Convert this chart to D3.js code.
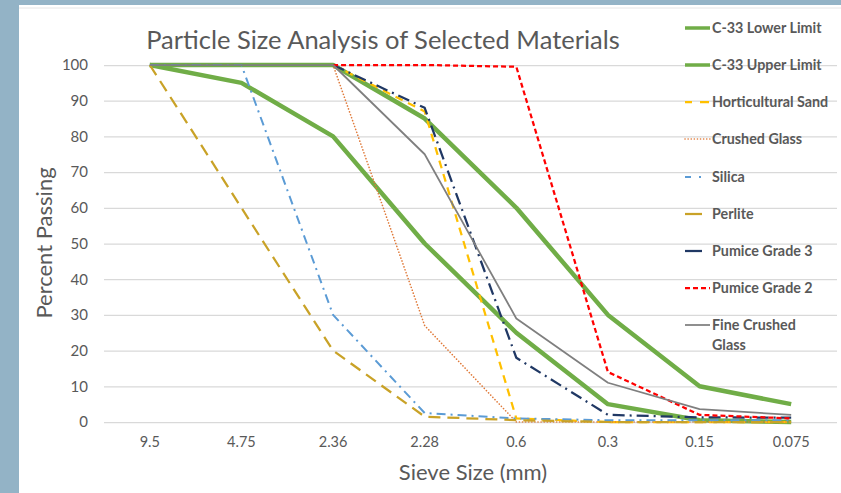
<!DOCTYPE html>
<html><head><meta charset="utf-8">
<script src="https://cdn.jsdelivr.net/npm/d3@7"></script>
<style>
html,body{margin:0;padding:0;background:#93b3c6;}
svg{display:block;}
</style></head>
<body>
<svg id="chart" width="841" height="493"></svg>
<script>
const sieveSizes = ["9.5","4.75","2.36","2.28","0.6","0.3","0.15","0.075"];
const yTicks = [0,10,20,30,40,50,60,70,80,90,100];
const seriesNames = ["C-33 Lower Limit","C-33 Upper Limit","Horticultural Sand","Crushed Glass","Silica","Perlite","Pumice Grade 3","Pumice Grade 2","Fine Crushed Glass"];
const c33Lower = [100,95,80,50,25,5,0.5,0];
const c33Upper = [100,100,100,85,60,30,10,5];
const horticulturalSand = [null,null,100,87,1,0,0,0];
const crushedGlass = [null,null,100,27,0,0,0,0];
const silica = [100,100,30,2.5,1,0.5,0.5,0.5];
const perlite = [100,60,20,1.5,0.5,0,0,0];
const pumiceGrade3 = [null,null,100,88,18,2,1.3,1.2];
const pumiceGrade2 = [null,null,100,100,99.5,14,2,1];
const fineCrushedGlass = [100,100,100,75,29,11,3.6,2];
const seriesValues = [c33Lower,c33Upper,horticulturalSand,crushedGlass,silica,perlite,pumiceGrade3,pumiceGrade2,fineCrushedGlass];
const styles = [
  {color:"#70ad47", width:4.5, dash:null, legendDash:null},
  {color:"#70ad47", width:4.5, dash:null, legendDash:null},
  {color:"#ffc000", width:2.25, dash:"8 6", legendDash:"7 8 9 20"},
  {color:"#e07a3a", width:1.6, dash:"0.1 3", legendDash:"0.1 3"},
  {color:"#5b9bd5", width:2, dash:"9 5 2 5", legendDash:"6 8 2 20"},
  {color:"#c9a227", width:2.25, dash:"12 7", legendDash:"17 20"},
  {color:"#203864", width:2.25, dash:"12 5 2 5", legendDash:"17 20"},
  {color:"#ff0000", width:2.25, dash:"5 3", legendDash:"5 3"},
  {color:"#7f7f7f", width:1.75, dash:null, legendDash:null}
];

const svg = d3.select("#chart");
svg.append("rect").attr("x",19).attr("y",5).attr("width",822).attr("height",488).attr("fill","#ffffff");
svg.append("line").attr("x1",19).attr("x2",841).attr("y1",8).attr("y2",8).attr("stroke","#e6e6e6").attr("stroke-width",1);

const mLeft = 104, mRight = 837, mTop = 65, mBottom = 422;
const x = d3.scaleBand().domain(sieveSizes).range([mLeft,mRight]);
const y = d3.scaleLinear().domain([0,100]).range([mBottom,mTop]);
const font = "Lato, 'Open Sans', sans-serif";
const textColor = "#595959";

const yAxis = d3.axisLeft(y).tickValues(yTicks).tickSize(-(mRight-mLeft)).tickPadding(16);
const gy = svg.append("g").attr("transform",`translate(${mLeft},0)`).call(yAxis);
gy.select(".domain").remove();
gy.selectAll(".tick line").attr("stroke","#d9d9d9").attr("stroke-width",1.25);
gy.selectAll(".tick text").attr("fill",textColor).attr("font-family",font).attr("font-size",15);

const xAxis = d3.axisBottom(x).tickSize(0).tickPadding(15);
const gx = svg.append("g").attr("transform",`translate(0,${mBottom})`).call(xAxis);
gx.select(".domain").remove();
gx.selectAll(".tick text").attr("fill",textColor).attr("font-family",font).attr("font-size",14.5);

const line = d3.line()
  .defined(d => d.v !== null)
  .x(d => x(d.k) + x.bandwidth()/2)
  .y(d => y(d.v));
seriesValues.forEach((vals,i) => {
  const data = vals.map((v,j) => ({k: sieveSizes[j], v: v}));
  const p = svg.append("path").datum(data).attr("d",line)
    .attr("fill","none").attr("stroke",styles[i].color).attr("stroke-width",styles[i].width)
    .attr("stroke-linejoin","round");
  if (styles[i].dash) p.attr("stroke-dasharray",styles[i].dash);
  if (i===3) p.attr("stroke-linecap","round");
});

svg.append("text").attr("x",383).attr("y",49).attr("text-anchor","middle")
  .attr("font-family",font).attr("font-size",25.5).attr("fill",textColor)
  .text("Particle Size Analysis of Selected Materials");
svg.append("text").attr("x",473).attr("y",480).attr("text-anchor","middle")
  .attr("font-family",font).attr("font-size",22).attr("fill",textColor)
  .text("Sieve Size (mm)");
svg.append("text").attr("transform","translate(52,243) rotate(-90)").attr("text-anchor","middle")
  .attr("font-family",font).attr("font-size",22).attr("fill",textColor)
  .text("Percent Passing");

const legendY = [28,65,102,139,177,214,251,288,325];
const lg = svg.append("g");
seriesNames.forEach((name,i) => {
  const ly = legendY[i];
  const s = styles[i];
  const l = lg.append("line").attr("x1",685).attr("x2",710).attr("y1",ly).attr("y2",ly)
    .attr("stroke",s.color).attr("stroke-width",Math.min(s.width,3.5));
  if (s.legendDash) l.attr("stroke-dasharray",s.legendDash);
  if (i===3) l.attr("stroke-linecap","round");
  const t = lg.append("text").attr("x",712).attr("y",ly+5)
    .attr("font-family",font).attr("font-size",14.3).attr("font-weight","bold").attr("fill",textColor);
  if (name === "Fine Crushed Glass") {
    t.append("tspan").attr("x",712).text("Fine Crushed");
    t.append("tspan").attr("x",712).attr("dy",20).text("Glass");
  } else {
    t.text(name);
  }
});
</script>
</body></html>
